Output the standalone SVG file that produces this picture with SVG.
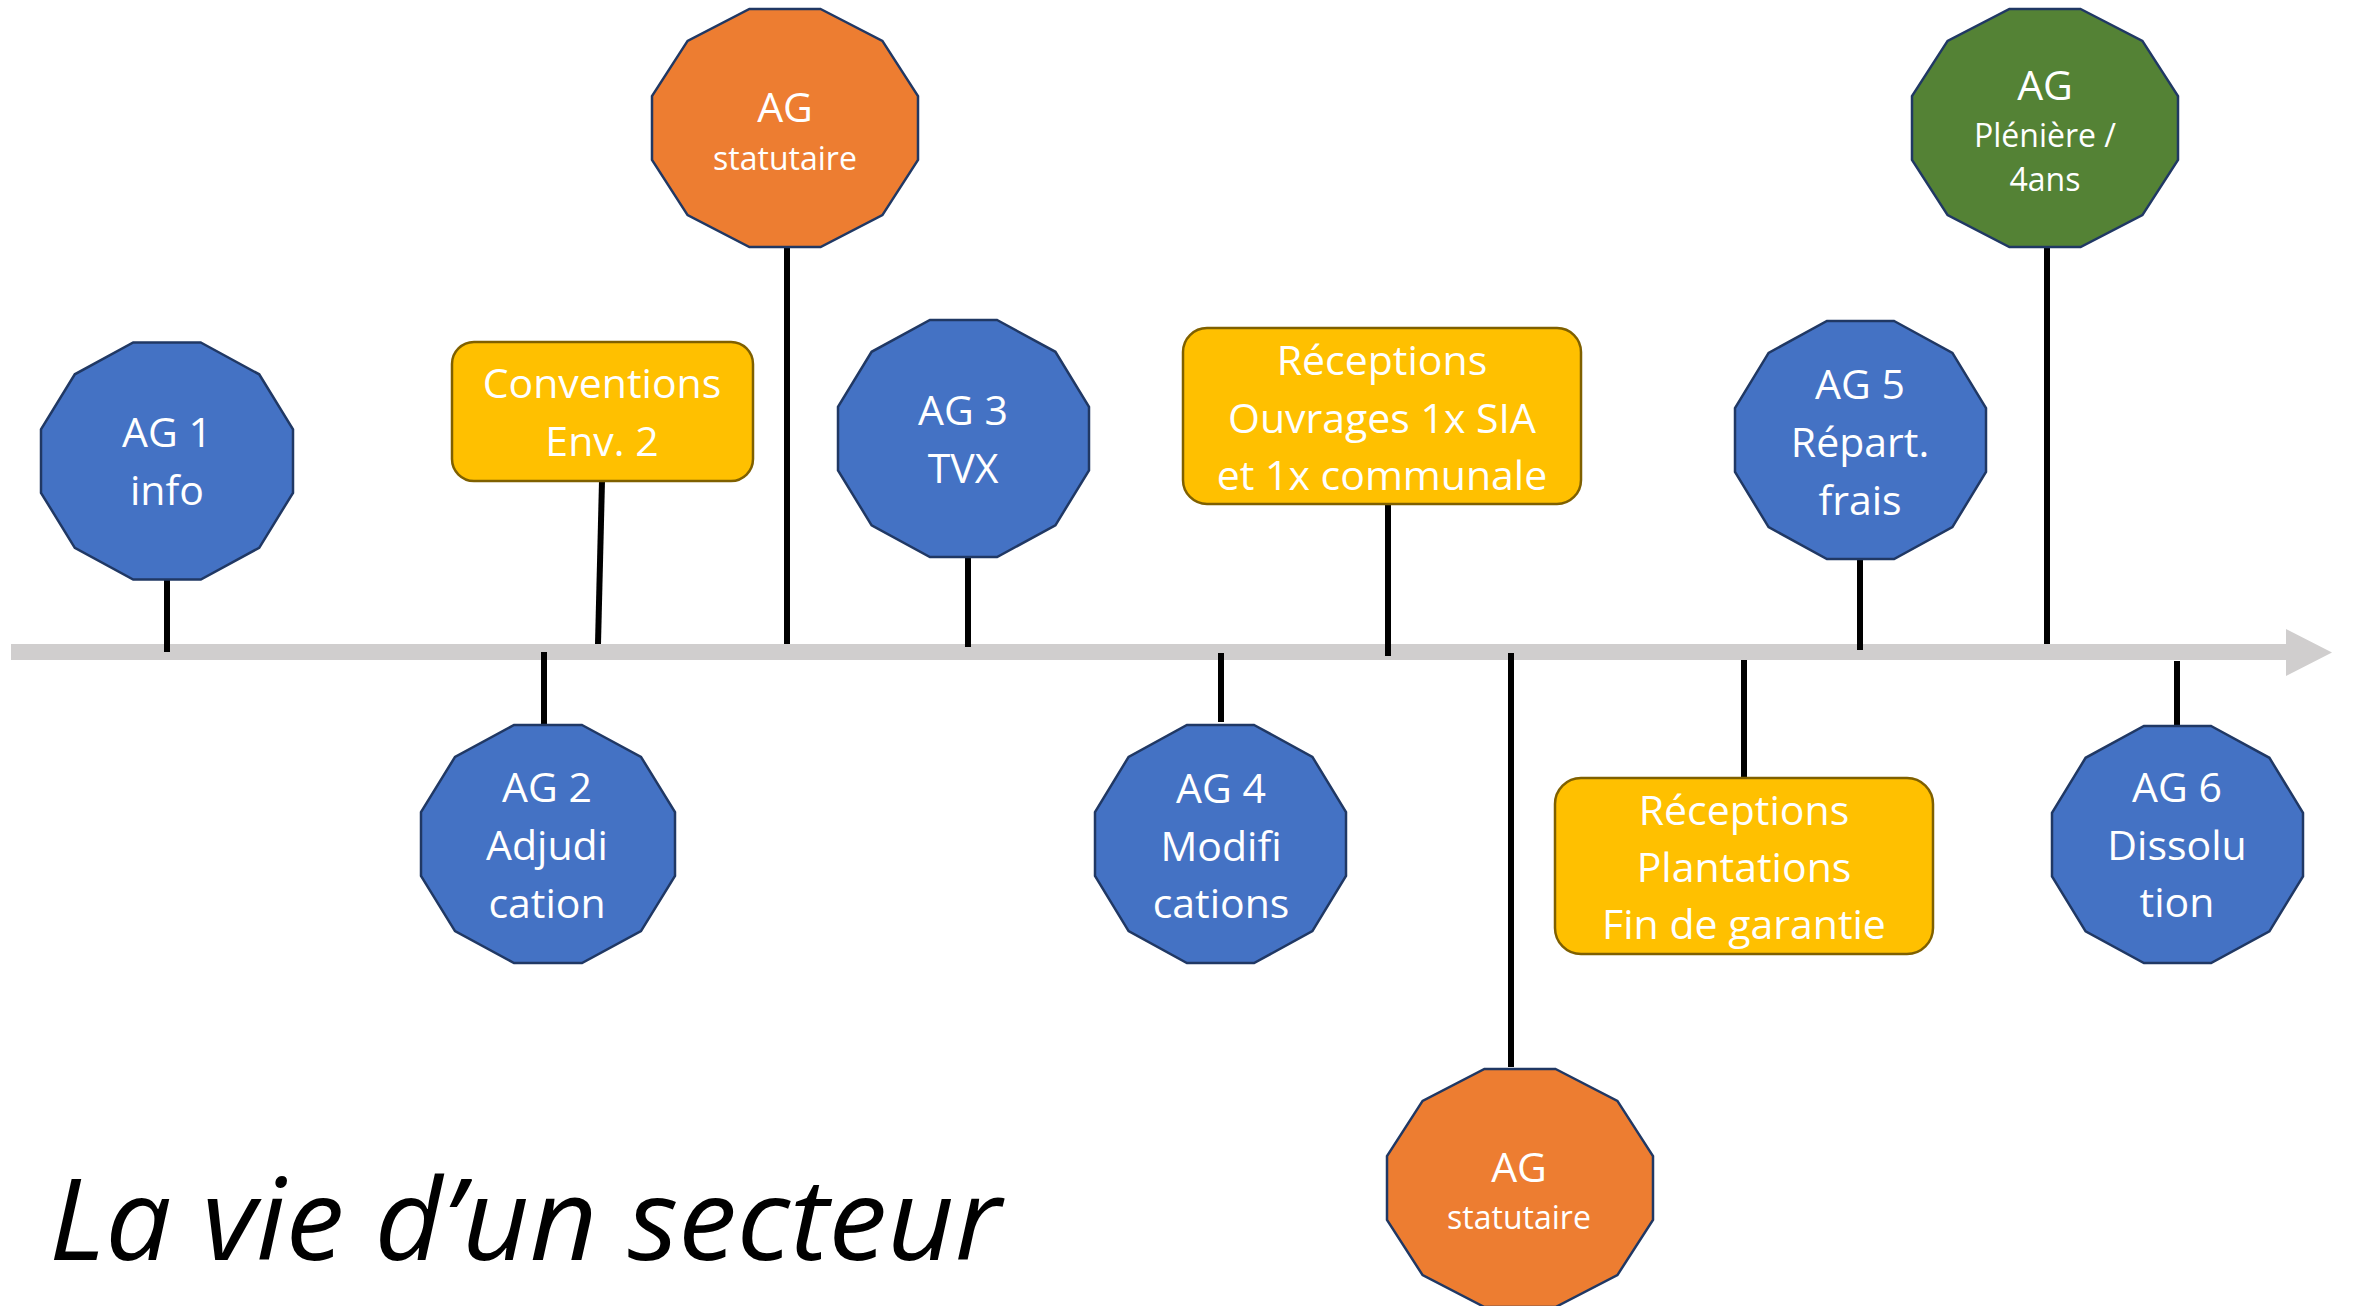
<svg xmlns="http://www.w3.org/2000/svg" width="2354" height="1306" viewBox="0 0 2354 1306">
<style>
.bg{fill:#ffffff}
.axis{fill:#D0CECE}
.conn line{stroke:#000000;stroke-width:6;stroke-linecap:butt}
.blue{fill:#4472C4;stroke:#203864;stroke-width:2.5;stroke-linejoin:miter}
.orange{fill:#ED7D31;stroke:#203864;stroke-width:2.5}
.green{fill:#548235;stroke:#203864;stroke-width:2.5}
.box{fill:#FFC000;stroke:#7F6000;stroke-width:2.5}
.t{fill:#ffffff;font-family:"Open Sans","Noto Sans","Liberation Sans",sans-serif;font-size:41px;text-anchor:middle}
.s{font-size:32px}
.title{fill:#000000;font-family:"Open Sans","Noto Sans","Liberation Sans",sans-serif;font-size:114px;font-style:italic}
</style>
<rect class="bg" x="0" y="0" width="2354" height="1306"/>
<g id="axis">
<polygon class="axis" points="11,644 2286,644 2286,629 2332,652.5 2286,676 2286,660 11,660"/>
</g>
<g id="connectors" class="conn">
<line x1="167" y1="579" x2="167" y2="652"/>
<line x1="602" y1="481" x2="598" y2="644"/>
<line x1="787" y1="247" x2="787" y2="644"/>
<line x1="544" y1="652" x2="544" y2="725"/>
<line x1="968" y1="557" x2="968" y2="647"/>
<line x1="1388" y1="504" x2="1388" y2="656"/>
<line x1="1221" y1="653" x2="1221" y2="722"/>
<line x1="1511" y1="653" x2="1511" y2="1067"/>
<line x1="1744" y1="660" x2="1744" y2="779"/>
<line x1="1860" y1="559" x2="1860" y2="650"/>
<line x1="2047" y1="247" x2="2047" y2="644"/>
<line x1="2177" y1="661" x2="2177" y2="727"/>
</g>
<g id="ag1">
<polygon class="blue" points="200.8,342.5 259.2,374.3 293,429.3 293,492.8 259.2,547.8 200.8,579.5 133.2,579.5 74.8,547.8 41,492.8 41,429.3 74.8,374.3 133.2,342.5"/>
<text class="t" x="167" y="447">AG 1</text>
<text class="t" x="167" y="505">info</text>
</g>
<g id="conventions">
<rect class="box" x="452" y="342" width="301" height="139" rx="22" ry="22"/>
<text class="t" x="602" y="398">Conventions</text>
<text class="t" x="602" y="456">Env. 2</text>
</g>
<g id="ag-statutaire-1">
<polygon class="orange" points="820.6,9 882.4,40.9 918,96.1 918,159.9 882.4,215.1 820.6,247 749.4,247 687.6,215.1 652,159.9 652,96.1 687.6,40.9 749.4,9"/>
<text class="t" x="785" y="122">AG</text>
<text class="t s" x="785" y="170">statutaire</text>
</g>
<g id="ag2">
<polygon class="blue" points="582,725 641,756.9 675,812.1 675,875.9 641,931.1 582,963 514,963 455,931.1 421,875.9 421,812.1 455,756.9 514,725"/>
<text class="t" x="547" y="802">AG 2</text>
<text class="t" x="547" y="860">Adjudi</text>
<text class="t" x="547" y="918">cation</text>
</g>
<g id="ag3">
<polygon class="blue" points="997.1,320 1055.4,351.8 1089,406.8 1089,470.3 1055.4,525.3 997.1,557 929.9,557 871.6,525.3 838,470.3 838,406.8 871.6,351.8 929.9,320"/>
<text class="t" x="963" y="425">AG 3</text>
<text class="t" x="963" y="483">TVX</text>
</g>
<g id="receptions-ouvrages">
<rect class="box" x="1183" y="328" width="398" height="176" rx="24" ry="24"/>
<text class="t" x="1382" y="375">Réceptions</text>
<text class="t" x="1382" y="433">Ouvrages 1x SIA</text>
<text class="t" x="1382" y="490">et 1x communale</text>
</g>
<g id="ag4">
<polygon class="blue" points="1254.1,725 1312.4,756.9 1346,812.1 1346,875.9 1312.4,931.1 1254.1,963 1186.9,963 1128.6,931.1 1095,875.9 1095,812.1 1128.6,756.9 1186.9,725"/>
<text class="t" x="1221" y="803">AG 4</text>
<text class="t" x="1221" y="861">Modifi</text>
<text class="t" x="1221" y="918">cations</text>
</g>
<g id="ag-statutaire-2">
<polygon class="orange" points="1555.6,1069 1617.4,1100.9 1653,1156.1 1653,1219.9 1617.4,1275.1 1555.6,1307 1484.4,1307 1422.6,1275.1 1387,1219.9 1387,1156.1 1422.6,1100.9 1484.4,1069"/>
<text class="t" x="1519" y="1182">AG</text>
<text class="t s" x="1519" y="1229">statutaire</text>
</g>
<g id="receptions-plantations">
<rect class="box" x="1555" y="778" width="378" height="176" rx="26" ry="26"/>
<text class="t" x="1744" y="825">Réceptions</text>
<text class="t" x="1744" y="882">Plantations</text>
<text class="t" x="1744" y="939">Fin de garantie</text>
</g>
<g id="ag5">
<polygon class="blue" points="1894.1,321 1952.4,352.9 1986,408.1 1986,471.9 1952.4,527.1 1894.1,559 1826.9,559 1768.6,527.1 1735,471.9 1735,408.1 1768.6,352.9 1826.9,321"/>
<text class="t" x="1860" y="399">AG 5</text>
<text class="t" x="1860" y="457">Répart.</text>
<text class="t" x="1860" y="515">frais</text>
</g>
<g id="ag-pleniere">
<polygon class="green" points="2080.6,9 2142.4,40.9 2178,96.1 2178,159.9 2142.4,215.1 2080.6,247 2009.4,247 1947.6,215.1 1912,159.9 1912,96.1 1947.6,40.9 2009.4,9"/>
<text class="t" x="2045" y="100">AG</text>
<text class="t s" x="2045" y="147">Plénière /</text>
<text class="t s" x="2045" y="191">4ans</text>
</g>
<g id="ag6">
<polygon class="blue" points="2211.1,726 2269.4,757.8 2303,812.8 2303,876.3 2269.4,931.3 2211.1,963 2143.9,963 2085.6,931.3 2052,876.3 2052,812.8 2085.6,757.8 2143.9,726"/>
<text class="t" x="2177" y="802">AG 6</text>
<text class="t" x="2177" y="860">Dissolu</text>
<text class="t" x="2177" y="917">tion</text>
</g>
<g id="title">
<text class="title" x="49" y="1260" textLength="952" lengthAdjust="spacingAndGlyphs">La vie d’un secteur</text>
</g>
</svg>
